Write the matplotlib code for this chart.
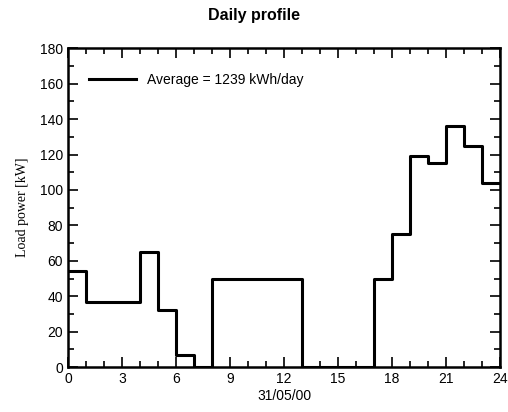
import numpy as np
import matplotlib
matplotlib.use("Agg")
import matplotlib.pyplot as plt
from matplotlib.ticker import MultipleLocator

# hourly load (kW), one value per hour starting at 0h
hours = list(range(25))
load = [54, 37, 37, 37, 65, 32, 7, 0, 50, 50, 50, 50, 50,
        0, 0, 0, 0, 50, 75, 119, 115, 136, 125, 104]
legend_label = "Average = 1239 kWh/day"

plt.rcParams['font.family'] = ['Liberation Sans', 'DejaVu Sans']

fig = plt.figure(figsize=(5.08, 4.12), dpi=100)
ax = fig.add_axes([0.134, 0.109, 0.850, 0.774])

y = load + [load[-1]]
ax.step(hours, y, where='post', color='black', lw=2.2, label=legend_label)

ax.set_xlim(0, 24)
ax.set_ylim(0, 180)
ax.xaxis.set_major_locator(MultipleLocator(3))
ax.xaxis.set_minor_locator(MultipleLocator(1))
ax.yaxis.set_major_locator(MultipleLocator(20))
ax.yaxis.set_minor_locator(MultipleLocator(10))
ax.tick_params(which='both', direction='in', top=True, right=True, labelsize=10, width=1.2)
ax.tick_params(which='major', length=7)
ax.tick_params(which='minor', length=4)
for s in ax.spines.values():
    s.set_linewidth(1.8)

ax.set_xlabel("31/05/00", fontsize=10, labelpad=2)
ax.set_ylabel("Load power [kW]", fontsize=10, family=['Liberation Serif', 'DejaVu Serif'], labelpad=8)
fig.suptitle("Daily profile", fontsize=11.5, fontweight='bold', y=0.98)

ax.legend(loc='upper left', frameon=False, fontsize=10, handlelength=3.4, handletextpad=0.8,
          bbox_to_anchor=(0.035, 0.94), borderaxespad=0.0)

fig.savefig("out.png", dpi=100)
